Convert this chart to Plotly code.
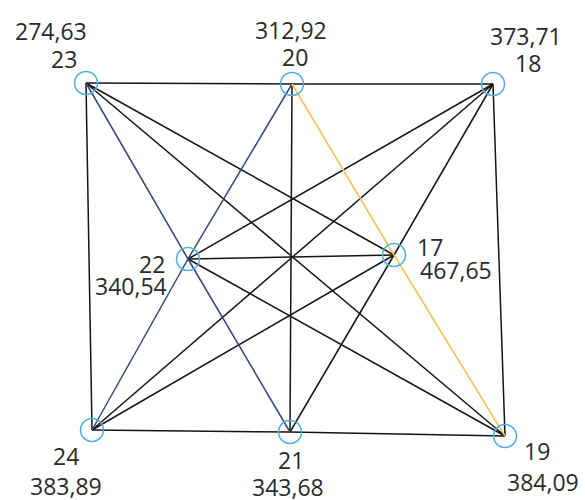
import plotly.graph_objects as go

# ---- data ----
node_ids = ["23", "20", "18", "22", "17", "24", "21", "19"]
node_values = ["274,63", "312,92", "373,71", "340,54", "467,65", "383,89", "343,68", "384,09"]
node_x = [86, 292, 493, 188, 394, 92, 290, 505]
node_y = [83, 84, 84, 259, 255, 430, 432, 436]

edges_black = [("23", "20"), ("20", "18"), ("23", "24"), ("18", "19"), ("24", "21"),
               ("21", "19"), ("20", "21"), ("22", "17"), ("23", "19"), ("24", "18"),
               ("23", "17"), ("24", "17"), ("18", "22"), ("19", "22"), ("18", "17"),
               ("17", "21")]
edges_blue = [("23", "22"), ("22", "21"), ("20", "22"), ("22", "24")]
edges_yellow = [("20", "17"), ("17", "19")]

# ---- label placement (layout only) ----
# (id_x, id_y, value_x, value_y)
label_pos = {
    "23": (64, 59, 51, 31),
    "20": (295, 57, 291, 30),
    "18": (528, 63, 526, 36),
    "22": (152, 264, 131, 286),
    "17": (430, 247, 456, 270),
    "24": (66, 456, 66, 486),
    "21": (291, 460, 288, 487),
    "19": (537, 451, 543, 482),
}

pos = {n: (x, y) for n, x, y in zip(node_ids, node_x, node_y)}

fig = go.Figure()


def add_edges(edges, color, width):
    xs, ys = [], []
    for a, b in edges:
        xs += [pos[a][0], pos[b][0], None]
        ys += [pos[a][1], pos[b][1], None]
    fig.add_trace(go.Scatter(x=xs, y=ys, mode="lines",
                             line=dict(color=color, width=width),
                             hoverinfo="skip", showlegend=False))


add_edges(edges_black, "#151515", 1.5)
add_edges(edges_blue, "#33477a", 1.5)
add_edges(edges_yellow, "#f2c45a", 1.6)

fig.add_trace(go.Scatter(
    x=node_x, y=node_y, mode="markers",
    marker=dict(symbol="circle-open", size=23, color="#4fb0e0",
                line=dict(width=1.5, color="#4fb0e0")),
    hoverinfo="skip", showlegend=False))

font = dict(family="Open Sans", size=23, color="#2a2a2a")
for n, v in zip(node_ids, node_values):
    ix, iy, vx, vy = label_pos[n]
    fig.add_annotation(x=ix, y=iy, text=n, showarrow=False, font=font,
                       xanchor="center", yanchor="middle")
    fig.add_annotation(x=vx, y=vy, text=v, showarrow=False, font=font,
                       xanchor="center", yanchor="middle")

fig.update_layout(
    width=585, height=500,
    margin=dict(l=0, r=0, t=0, b=0),
    paper_bgcolor="white", plot_bgcolor="white",
    xaxis=dict(range=[0, 585], visible=False, fixedrange=True),
    yaxis=dict(range=[500, 0], visible=False, fixedrange=True),
)

fig.write_html("out.html", config={"displayModeBar": False},
               post_script="document.body.style.margin='0';")
